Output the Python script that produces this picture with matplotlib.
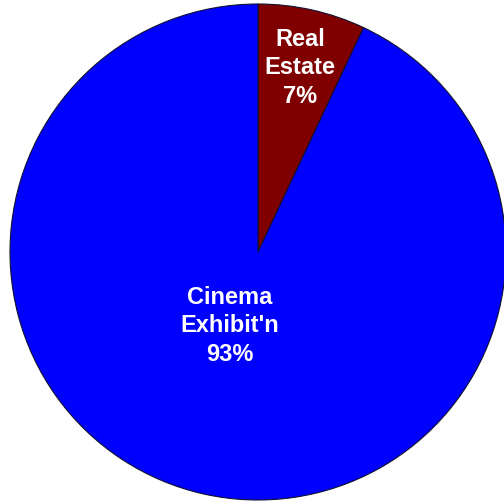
import matplotlib
matplotlib.use("Agg")
import matplotlib.pyplot as plt

categories = ["Real\nEstate", "Cinema\nExhibit'n"]
values = [7, 93]
colors = ["#800000", "#0000FF"]

fig = plt.figure(figsize=(5.04, 5.02), dpi=100)
ax = fig.add_axes([10/504, 1/502, 496/504, 496/502])
wedges, _ = ax.pie(values, colors=colors, startangle=90, counterclock=False,
                   radius=1.0, wedgeprops=dict(edgecolor="#101030", linewidth=0.8))
for w in wedges:
    w.set_clip_on(False)
ax.set_xlim(-1, 1)
ax.set_ylim(-1, 1)
ax.set_aspect("equal")
ax.axis("off")

label_pos = [(0.169, 0.746), (-0.113, -0.294)]
for cat, v, (x, y) in zip(categories, values, label_pos):
    ax.text(x, y, f"{cat}\n{v}%", ha="center", va="center", color="white",
            fontsize=17, fontweight="bold", family="Liberation Sans",
            linespacing=1.32)

fig.savefig("out.png", dpi=100)
